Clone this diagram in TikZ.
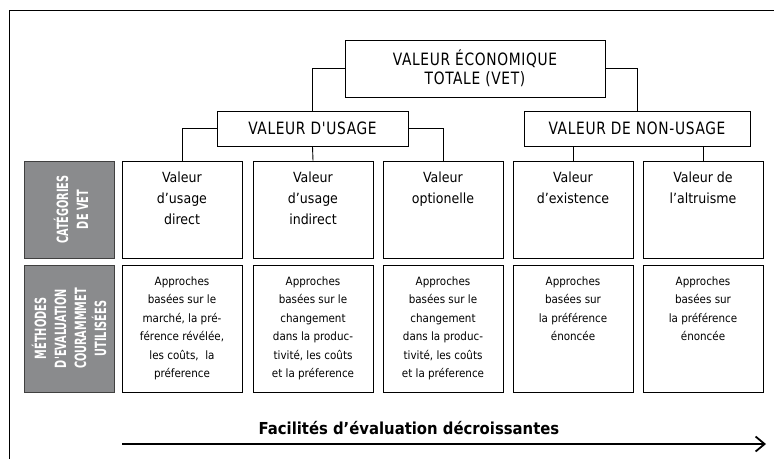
\documentclass[tikz,border=0pt]{standalone}
\usepackage{fontspec}
\setmainfont{DejaVu Sans Condensed}
\newfontfamily\capsfont[LetterSpace=4,FakeStretch=0.9]{DejaVu Sans Condensed}
\newfontfamily\grisfont[FakeStretch=0.7]{DejaVu Sans Condensed Bold}
\usetikzlibrary{arrows.meta}
\definecolor{grisbox}{HTML}{8A8B8D}

% cellule a hauteur fixe, texte en haut
\newcommand{\cellule}[3]{\parbox[c][#1][t]{112pt}{\centering\vspace*{#2}#3}}

\begin{document}
\begin{tikzpicture}[x=1pt,y=-1pt,
    tete/.style={draw, line width=0.9pt, font=\capsfont\fontsize{17}{19}\selectfont, align=center, inner sep=0pt},
    cat/.style={draw, line width=0.9pt, inner xsep=4pt, inner ysep=0pt, font=\fontsize{14}{21}\selectfont},
    meth/.style={draw, line width=0.9pt, inner xsep=4pt, inner ysep=0pt, font=\fontsize{11.5}{18.5}\selectfont},
    gris/.style={draw=black!75, fill=grisbox, line width=0.9pt, minimum width=90pt, inner sep=0pt},
    lgris/.style={rotate=90, text=white, align=center, font=\grisfont\fontsize{15.5}{20}\selectfont},
    lien/.style={line width=0.9pt}]
  \useasboundingbox (0,0) rectangle (774,459);

  % cadre
  \draw[line width=0.9pt] (9,459) -- (9,10.5) -- (774,10.5);

  % niveaux du haut
  \node[tete, minimum width=260pt, minimum height=57pt] (vet) at (475,68.5)
    {VALEUR ÉCONOMIQUE\\TOTALE (VET)};
  \node[tete, minimum width=191pt, minimum height=35pt] (usage) at (312.5,128.5)
    {VALEUR D'USAGE};
  \node[tete, minimum width=226pt, minimum height=35pt] (nonusage) at (637,128.5)
    {VALEUR DE NON-USAGE};

  % categories de VET
  \node[gris, minimum height=97pt] (g1) at (69,209.5) {};
  \node[lgris] (g1t) at ([xshift=2pt]g1.center) {CATÉGORIES\\DE VET};
  \node[cat] (d1) at (182,209.5) {\cellule{97pt}{11pt}{Valeur\\d'usage\\direct}};
  \node[cat] (d2) at (313,209.5) {\cellule{97pt}{11pt}{Valeur\\d'usage\\indirect}};
  \node[cat] (d3) at (443,209.5) {\cellule{97pt}{11pt}{Valeur\\optionelle}};
  \node[cat] (d4) at (573,209.5) {\cellule{97pt}{11pt}{Valeur\\d'existence}};
  \node[cat] (d5) at (703,209.5) {\cellule{97pt}{11pt}{Valeur de\\l'altruisme}};

  % methodes
  \node[gris, minimum height=127pt] (g2) at (69,328.5) {};
  \node[lgris] (g2t) at (g2.center) {MÉTHODES\\D'EVALUATION\\COURAMMMET\\UTILISÉES};
  \node[meth] (m1) at (182,328.5) {\cellule{127pt}{11.5pt}{Approches\\basées sur le\\marché, la pré-\\férence révélée,\\les coûts,~ la\\préference}};
  \node[meth] (m2) at (313,328.5) {\cellule{127pt}{11.5pt}{Approches\\basées sur le\\changement\\dans la produc-\\tivité, les coûts\\et la préference}};
  \node[meth] (m3) at (443,328.5) {\cellule{127pt}{11.5pt}{Approches\\basées sur le\\changement\\dans la produc-\\tivité, les coûts\\et la préference}};
  \node[meth] (m4) at (573,328.5) {\cellule{127pt}{11.5pt}{Approches\\basées sur\\la préférence\\énoncée}};
  \node[meth] (m5) at (703,328.5) {\cellule{127pt}{11.5pt}{Approches\\basées sur\\la préférence\\énoncée}};

  % liens
  \draw[lien] (vet.west) -| (usage.north);
  \draw[lien] (vet.east) -| (nonusage.north);
  \draw[lien] (usage.west) -| (d1.north);
  \draw[lien] (usage.south) -- (d2.north);
  \draw[lien] (usage.east) -| (d3.north);
  \draw[lien] (d4.north) -- (d4.north |- nonusage.south);
  \draw[lien] (d5.north) -- (d5.north |- nonusage.south);

  % fleche du bas
  \node[font=\bfseries\fontsize{16.5}{18}\selectfont] (facil) at (409,428)
    {Facilités d'évaluation décroissantes};
  \coordinate (fdeb) at (122,444);
  \coordinate (ffin) at (766,444);
  \draw[line width=1.8pt, -{Straight Barb[length=9pt,width=15pt,line width=1.8pt]}] (fdeb) -- (ffin);
\end{tikzpicture}
\end{document}
